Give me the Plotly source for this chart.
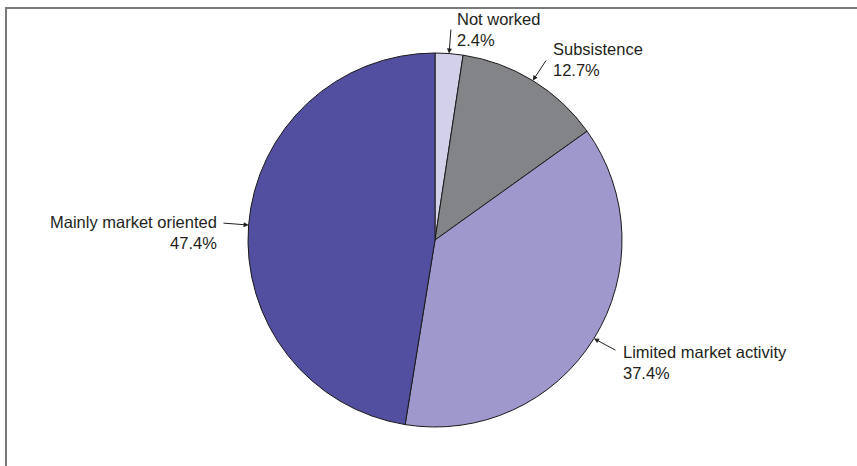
import math
import plotly.graph_objects as go

labels = ["Not worked", "Subsistence", "Limited market activity", "Mainly market oriented"]
values = [2.4, 12.7, 37.4, 47.4]
colors = ["#d3d0ea", "#838487", "#9e98cc", "#524ea0"]

W, H = 857, 466
CX, CY, R = 435, 240, 187

# label block anchor (pixel) and arrow tail (pixel)
label_pos = [(455, 29, "left"), (551, 60, "left"), (621, 362, "left"), (219, 232, "right")]
tails = [(451, 28), (547, 59), (617, 351), (222, 223)]

def px(x):
    return x / W

def py(y):
    return 1 - y / H

fig = go.Figure(go.Pie(
    labels=labels, values=values, sort=False, direction="clockwise", rotation=0,
    marker=dict(colors=colors, line=dict(color="#1a1a1a", width=1)),
    textinfo="none", hoverinfo="label+percent", showlegend=False,
    domain=dict(x=[px(CX - R), px(CX + R)], y=[py(CY + R), py(CY - R)]),
))

annotations = []
total = sum(values)
cum = 0.0
for lab, v, (lx, ly, al), (tx, ty) in zip(labels, values, label_pos, tails):
    mid = (cum + v / 2) / total * 2 * math.pi
    cum += v
    hx = CX + R * math.sin(mid)
    hy = CY - R * math.cos(mid)
    annotations.append(dict(
        x=px(hx), y=py(hy), xref="paper", yref="paper", text="",
        showarrow=True, ax=tx - hx, ay=ty - hy, arrowhead=2, arrowsize=1,
        arrowwidth=1, arrowcolor="#231f20", standoff=0,
    ))
    annotations.append(dict(
        x=px(lx), y=py(ly), xref="paper", yref="paper",
        text=f"{lab}<br>{v:.1f}%", showarrow=False, align=al,
        xanchor=al, yanchor="middle",
        font=dict(family="Liberation Sans, Arial, sans-serif", size=16.5, color="#231f20"),
    ))

fig.update_layout(
    width=W, height=H, margin=dict(l=0, r=0, t=0, b=0),
    paper_bgcolor="white", plot_bgcolor="white",
    annotations=annotations,
    shapes=[
        dict(type="line", xref="paper", yref="paper", x0=px(5), x1=1, y0=py(8), y1=py(8),
             line=dict(color="#7a7a7a", width=2)),
        dict(type="line", xref="paper", yref="paper", x0=px(6), x1=px(6), y0=py(8), y1=0,
             line=dict(color="#7a7a7a", width=2)),
    ],
)

fig.write_html("out.html")
